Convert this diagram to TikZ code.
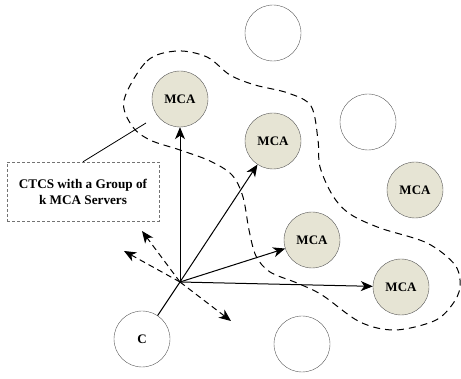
\documentclass[tikz,border=0pt]{standalone}
\usepackage{fontspec}
\setmainfont{Liberation Serif}
\usetikzlibrary{arrows.meta}
\definecolor{mcafill}{RGB}{230,228,212}
\begin{document}
\begin{tikzpicture}[x=1pt,y=-1pt,>={Stealth[length=12pt,width=10pt,inset=3.5pt]},
    mca/.style={circle,draw=black!65,fill=mcafill,minimum size=56pt,inner sep=0pt,
        font=\fontsize{13}{15}\selectfont\bfseries},
    idle/.style={circle,draw=black!65,minimum size=56pt,inner sep=0pt,
        font=\fontsize{13}{15}\selectfont\bfseries},
    link/.style={->,line width=1pt},
    probe/.style={->,line width=1pt,dash pattern=on 6pt off 4pt},
    group/.style={line width=1pt,dash pattern=on 7pt off 5pt}]
    % picture frame in pixels of the reference
    \useasboundingbox (0,0) rectangle (461,379);

    % servers that are not in the group
    \node[idle] (freeA) at (273,33) {};
    \node[idle] (freeB) at (368,122) {};
    \node[idle] (freeC) at (302,344) {};

    % the client
    \node[idle] (client) at (142,339) {C};

    % servers of the group
    \node[mca] (mcaA) at (180,99) {MCA};
    \node[mca] (mcaB) at (273,141) {MCA};
    \node[mca] (mcaC) at (312,240) {MCA};
    \node[mca] (mcaD) at (401,287) {MCA};
    \node[mca] (mcaE) at (415,190) {MCA};

    % dashed outline round the group
    \draw[group] plot[smooth cycle,tension=0.55] coordinates {
        (124,100) (147,61) (177,51) (207,57) (230,75) (255,85) (288,93)
        (311,106) (318,140) (320,167) (333,196) (350,214) (380,228)
        (427,243) (455,265) (460,287) (452,305) (434,321) (395,330)
        (360,322) (322,295) (297,283) (270,272) (256,256) (249,230)
        (243,197) (232,175) (210,161) (180,150) (150,140) (132,126)};

    % label of the group
    \node[draw=black!55,dash pattern=on 3pt off 2pt,minimum width=152pt,minimum height=59pt,
        align=center,font=\fontsize{13.2}{16}\selectfont\bfseries] (ctcs) at (83,191.5)
        {CTCS with a Group of\\k MCA Servers};
    \coordinate (pin) at (146,123);
    \draw[line width=0.8pt] (ctcs.north) -- (pin);

    % requests leaving the hub
    \coordinate (hub) at (180,282);
    \draw[line width=1pt] (hub) -- (client);
    \foreach \s in {mcaA,mcaB,mcaC,mcaD}
        \draw[link] (hub) -- (\s);

    % probes that reach no server
    \coordinate (probeA) at (142,231);
    \coordinate (probeB) at (124,251);
    \coordinate (probeC) at (231,321);
    \foreach \p in {probeA,probeB,probeC}
        \draw[probe] (hub) -- (\p);
\end{tikzpicture}
\end{document}
